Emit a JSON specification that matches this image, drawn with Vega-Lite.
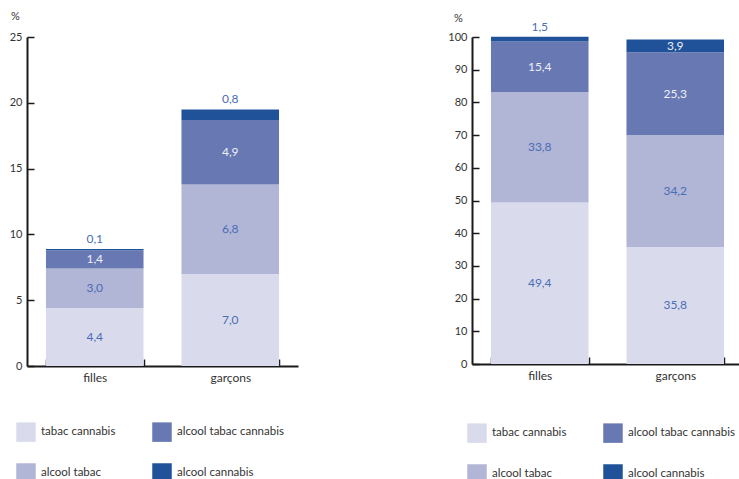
{
  "$schema": "https://vega.github.io/schema/vega-lite/v6.json",
  "padding": {"left": 9, "top": 10, "right": 0, "bottom": 0},
  "datasets": {
    "prevalence": [
      {"sexe": "filles", "produits": "tabac cannabis", "valeur": 4.4},
      {"sexe": "filles", "produits": "alcool tabac", "valeur": 3.0},
      {"sexe": "filles", "produits": "alcool tabac cannabis", "valeur": 1.4},
      {"sexe": "filles", "produits": "alcool cannabis", "valeur": 0.1},
      {"sexe": "garçons", "produits": "tabac cannabis", "valeur": 7.0},
      {"sexe": "garçons", "produits": "alcool tabac", "valeur": 6.8},
      {"sexe": "garçons", "produits": "alcool tabac cannabis", "valeur": 4.9},
      {"sexe": "garçons", "produits": "alcool cannabis", "valeur": 0.8}
    ],
    "repartition": [
      {"sexe": "filles", "produits": "tabac cannabis", "valeur": 49.4},
      {"sexe": "filles", "produits": "alcool tabac", "valeur": 33.8},
      {"sexe": "filles", "produits": "alcool tabac cannabis", "valeur": 15.4},
      {"sexe": "filles", "produits": "alcool cannabis", "valeur": 1.5},
      {"sexe": "garçons", "produits": "tabac cannabis", "valeur": 35.8},
      {"sexe": "garçons", "produits": "alcool tabac", "valeur": 34.2},
      {"sexe": "garçons", "produits": "alcool tabac cannabis", "valeur": 25.3},
      {"sexe": "garçons", "produits": "alcool cannabis", "valeur": 3.9}
    ]
  },
  "hconcat": [
    {
      "width": 271,
      "height": 329,
      "data": {"name": "prevalence"},
      "transform": [
        {"calculate": "indexof(['tabac cannabis', 'alcool tabac', 'alcool tabac cannabis', 'alcool cannabis'], datum.produits)", "as": "rang"},
        {"stack": "valeur", "groupby": ["sexe"], "sort": [{"field": "rang", "order": "ascending"}], "as": ["bas", "haut"]},
        {"calculate": "(datum.bas + datum.haut) / 2", "as": "milieu"}
      ],
      "encoding": {
        "x": {
          "field": "sexe", "type": "nominal", "sort": ["filles", "garçons"],
          "scale": {"paddingInner": 0.28, "paddingOuter": 0.14},
          "axis": {"title": null, "labelAngle": 0, "tickBand": "extent", "tickSize": -7, "labelPadding": 13}
        }
      },
      "layer": [
        {
          "mark": {"type": "bar"},
          "encoding": {
            "y": {"field": "bas", "type": "quantitative", "title": "%",
              "scale": {"domain": [0, 25], "nice": false},
              "axis": {"values": [0, 5, 10, 15, 20, 25], "tickSize": -7, "labelPadding": 12, "labelOverlap": false,
                "titleAngle": 0, "titleX": -12, "titleY": -21, "titleAlign": "center", "titleBaseline": "middle"}},
            "y2": {"field": "haut"},
            "color": {
              "field": "produits", "type": "nominal",
              "scale": {"domain": ["tabac cannabis", "alcool tabac", "alcool tabac cannabis", "alcool cannabis"],
                        "range": ["#d9dbec", "#b1b5d6", "#6878b2", "#20529a"]},
              "legend": {"title": null, "orient": "none", "legendX": -11, "legendY": 385, "columns": 2}
            }
          }
        },
        {
          "transform": [{"filter": "!(datum.produits == 'alcool cannabis' && datum.valeur < 2)"}],
          "mark": {"type": "text", "fontSize": 12},
          "encoding": {
            "y": {"field": "milieu", "type": "quantitative", "title": "%",
              "axis": {"values": [0, 5, 10, 15, 20, 25], "tickSize": -7, "labelPadding": 12, "labelOverlap": false,
                "titleAngle": 0, "titleX": -12, "titleY": -21, "titleAlign": "center", "titleBaseline": "middle"}},
            "text": {"field": "valeur", "type": "quantitative", "format": ".1f"},
            "color": {"condition": {"test": "datum.produits == 'alcool tabac cannabis' || datum.produits == 'alcool cannabis'", "value": "#eef0f8"}, "value": "#4a6db5"}
          }
        },
        {
          "transform": [{"filter": "datum.produits == 'alcool cannabis' && datum.valeur < 2"}],
          "mark": {"type": "text", "fontSize": 12, "dy": -10, "color": "#4a6db5"},
          "encoding": {
            "y": {"field": "haut", "type": "quantitative", "title": "%",
              "axis": {"values": [0, 5, 10, 15, 20, 25], "tickSize": -7, "labelPadding": 12, "labelOverlap": false,
                "titleAngle": 0, "titleX": -12, "titleY": -21, "titleAlign": "center", "titleBaseline": "middle"}},
            "text": {"field": "valeur", "type": "quantitative", "format": ".1f"}
          }
        }
      ]
    },
    {
      "width": 271,
      "height": 327,
      "data": {"name": "repartition"},
      "transform": [
        {"calculate": "indexof(['tabac cannabis', 'alcool tabac', 'alcool tabac cannabis', 'alcool cannabis'], datum.produits)", "as": "rang"},
        {"stack": "valeur", "groupby": ["sexe"], "sort": [{"field": "rang", "order": "ascending"}], "as": ["bas", "haut"]},
        {"calculate": "(datum.bas + datum.haut) / 2", "as": "milieu"}
      ],
      "encoding": {
        "x": {
          "field": "sexe", "type": "nominal", "sort": ["filles", "garçons"],
          "scale": {"paddingInner": 0.28, "paddingOuter": 0.14},
          "axis": {"title": null, "labelAngle": 0, "tickBand": "extent", "tickSize": -7, "labelPadding": 13}
        }
      },
      "layer": [
        {
          "mark": {"type": "bar"},
          "encoding": {
            "y": {"field": "bas", "type": "quantitative", "title": "%",
              "scale": {"domain": [0, 100], "nice": false},
              "axis": {"values": [0, 10, 20, 30, 40, 50, 60, 70, 80, 90, 100], "tickSize": -7, "labelPadding": 12, "labelOverlap": false,
                "titleAngle": 0, "titleX": -14, "titleY": -19, "titleAlign": "center", "titleBaseline": "middle"}},
            "y2": {"field": "haut"},
            "color": {
              "field": "produits", "type": "nominal",
              "scale": {"domain": ["tabac cannabis", "alcool tabac", "alcool tabac cannabis", "alcool cannabis"],
                        "range": ["#d9dbec", "#b1b5d6", "#6878b2", "#20529a"]},
              "legend": {"title": null, "orient": "none", "legendX": -5, "legendY": 386, "columns": 2}
            }
          }
        },
        {
          "transform": [{"filter": "!(datum.produits == 'alcool cannabis' && datum.valeur < 2)"}],
          "mark": {"type": "text", "fontSize": 12},
          "encoding": {
            "y": {"field": "milieu", "type": "quantitative", "title": "%",
              "axis": {"values": [0, 10, 20, 30, 40, 50, 60, 70, 80, 90, 100], "tickSize": -7, "labelPadding": 12, "labelOverlap": false,
                "titleAngle": 0, "titleX": -14, "titleY": -19, "titleAlign": "center", "titleBaseline": "middle"}},
            "text": {"field": "valeur", "type": "quantitative", "format": ".1f"},
            "color": {"condition": {"test": "datum.produits == 'alcool tabac cannabis' || datum.produits == 'alcool cannabis'", "value": "#eef0f8"}, "value": "#4a6db5"}
          }
        },
        {
          "transform": [{"filter": "datum.produits == 'alcool cannabis' && datum.valeur < 2"}],
          "mark": {"type": "text", "fontSize": 12, "dy": -10, "color": "#4a6db5"},
          "encoding": {
            "y": {"field": "haut", "type": "quantitative", "title": "%",
              "axis": {"values": [0, 10, 20, 30, 40, 50, 60, 70, 80, 90, 100], "tickSize": -7, "labelPadding": 12, "labelOverlap": false,
                "titleAngle": 0, "titleX": -14, "titleY": -19, "titleAlign": "center", "titleBaseline": "middle"}},
            "text": {"field": "valeur", "type": "quantitative", "format": ".1f"}
          }
        }
      ]
    }
  ],
  "resolve": {"scale": {"color": "independent"}},
  "spacing": 149,
  "config": {
    "locale": {"number": {"decimal": ",", "thousands": " ", "grouping": [3], "currency": ["", " €"]}},
    "font": "Lato",
    "view": {"stroke": null},
    "axis": {
      "grid": false,
      "domainColor": "#1a1a1a", "domainWidth": 2,
      "tickColor": "#1a1a1a", "tickWidth": 1.5,
      "labelFont": "Lato", "labelFontSize": 11, "labelColor": "#333333",
      "titleFont": "Lato", "titleFontSize": 11, "titleFontWeight": "normal", "titleColor": "#333333"
    },
    "axisX": {"labelFontSize": 12},
    "legend": {
      "symbolType": "square", "symbolSize": 380, "symbolStrokeWidth": 0, "symbolOpacity": 1,
      "labelFont": "Lato", "labelFontSize": 11.5, "labelColor": "#333333", "labelOffset": 5,
      "columnPadding": 36, "rowPadding": 21
    }
  }
}
